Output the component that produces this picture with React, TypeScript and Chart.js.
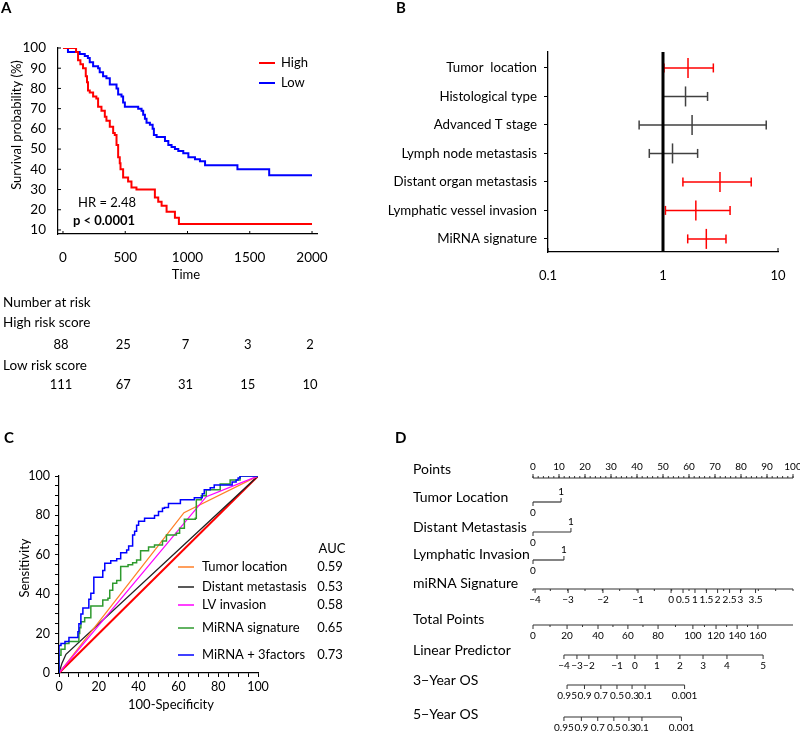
import React, { useEffect, useRef } from 'react';
import { Chart, registerables } from 'chart.js';

Chart.register(...registerables);

const FONT = 'Lato, "Open Sans", "Liberation Sans", sans-serif';
Chart.defaults.font.family = FONT;
Chart.defaults.color = '#000';

// ================= Panel A: Kaplan-Meier =================
const highTimes = [0, 80, 105, 121, 140, 161, 183, 193, 201, 215, 242, 268, 282, 309, 336, 349, 376, 403, 416, 430, 443, 456, 462, 483, 523, 550, 590, 738, 765, 792, 832, 899, 931, 2000];
const highSurv = [100, 100, 98, 94, 92, 90, 86, 83, 79, 78, 76, 75, 71, 69, 66, 64, 61, 58, 57, 52, 46, 43, 40, 36, 34, 31, 30, 26, 24, 22, 19, 16, 13, 13];
const lowTimes = [0, 40, 134, 175, 200, 215, 242, 282, 295, 322, 349, 376, 430, 443, 470, 483, 497, 604, 631, 644, 658, 671, 698, 720, 730, 752, 819, 846, 872, 899, 926, 966, 1007, 1060, 1100, 1141, 1401, 1656, 2000];
const lowSurv = [100, 98, 97, 96, 95, 93, 91, 90, 88, 86, 85, 82, 80, 77, 76, 73, 71, 70, 69, 67, 65, 63, 62, 60, 57, 56, 54, 52, 51, 50, 49, 48, 46, 45, 44, 42, 40, 37, 37];
const timeTicks = [0, 500, 1000, 1500, 2000];
const survTicks = [10, 20, 30, 40, 50, 60, 70, 80, 90, 100];
const kmGroups = ['High', 'Low'];
const riskHigh = [88, 25, 7, 3, 2];
const riskLow = [111, 67, 31, 15, 10];
const hrText = 'HR = 2.48';
const pText = 'p < 0.0001';

// ================= Panel B: Forest plot =================
const forestLabels = ['Tumor  location', 'Histological type', 'Advanced T stage', 'Lymph node metastasis', 'Distant organ metastasis', 'Lymphatic vessel invasion', 'MiRNA signature'];
const forestHR = [1.65, 1.57, 1.79, 1.21, 3.13, 1.93, 2.38];
const forestLow = [1.02, 1.0, 0.62, 0.76, 1.49, 1.05, 1.64];
const forestHigh = [2.74, 2.44, 7.9, 2.0, 5.85, 3.83, 3.53];
const forestTicks = [0.1, 1, 10];

// ================= Panel C: ROC =================
const rocRefX = [0, 100];
const rocRefY = [0, 100];
const rocDistantX = [0, 1.5, 3.5, 100];
const rocDistantY = [0, 5, 9.5, 100];
const rocTumorX = [0, 62.8, 100];
const rocTumorY = [0, 81.4, 100];
const rocLvX = [0, 2, 74, 100];
const rocLvY = [0, 2.5, 89.5, 100];
const rocMirnaX = [0, 0, 1, 3, 5, 9.5, 10, 10.4, 11, 12.9, 16, 20.4, 22, 24.6, 25.5, 27, 29, 31, 34.7, 37, 39, 41, 45, 48, 52, 54, 59, 60.6, 63, 68.5, 69, 71.5, 74, 81, 86, 91, 100];
const rocMirnaY = [0, 9, 12, 15, 16, 16, 20, 23, 26, 28, 34, 34, 37, 38, 42, 45.6, 47, 54, 55, 56, 57.4, 62, 64, 65, 67, 70, 71, 73.5, 78, 78.5, 88, 90, 93, 96, 98, 100, 100];
const rocCombX = [0, 0, 1, 3, 5, 9, 9.5, 10, 11, 12, 14, 15, 16, 17.5, 21, 22, 23, 26, 29, 31, 34, 35, 37, 38, 39, 40, 43, 48, 50, 52, 53, 55, 61, 68, 72, 73, 76, 78, 87, 89, 90, 91, 100];
const rocCombY = [0, 14, 15, 16, 18, 18, 21, 25, 30, 33, 33, 37.5, 40.5, 48.6, 48.6, 52, 55.7, 57, 58, 61, 62.5, 64.5, 70, 72, 75, 77, 78.5, 80, 82, 83.6, 84, 86, 88, 89, 91, 93, 94, 95.4, 97, 98, 99, 100, 100];
const rocNames = ['Tumor location', 'Distant metastasis', 'LV invasion', 'MiRNA signature', 'MiRNA + 3factors'];
const rocAuc = ['0.59', '0.53', '0.58', '0.65', '0.73'];
const rocTicks = [0, 20, 40, 60, 80, 100];

// ================= Panel D: Nomogram =================
const nomoRowNames = ['Points', 'Tumor Location', 'Distant Metastasis', 'Lymphatic Invasion', 'miRNA Signature', 'Total Points', 'Linear Predictor', '3\u2212Year OS', '5\u2212Year OS'];
const pointsLabels = [0, 10, 20, 30, 40, 50, 60, 70, 80, 90, 100];
const binaryLabels = ['0', '1'];
const tumorPts = [0, 10.8];
const distantPts = [0, 14.6];
const lymphPts = [0, 11.9];
const mirnaLabels = ['\u22124', '\u22123', '\u22122', '\u22121', '0', '0.5', '1', '1.5', '2', '2.5', '3', '3.5'];
const mirnaPts = [0.8, 13.5, 26.9, 40.4, 53.1, 57.7, 62.3, 66.7, 71.0, 75.6, 79.8, 85.6];
const mirnaRange = [-4, 3.5];
const totalLabels = ['0', '20', '40', '60', '80', '100', '120', '140', '160'];
const totalPts = [0, 13.1, 25, 36.5, 48.1, 61.5, 70.4, 78.5, 86.5];
const lpLabels = ['\u22124', '\u22123', '\u22122', '\u22121', '0', '1', '2', '3', '4', '5'];
const lpPts = [11.9, 16.9, 21.5, 32.3, 39.2, 47.7, 56.5, 65.4, 74.6, 88.5];
const osLabels = ['0.95', '0.9', '0.7', '0.5', '0.3', '0.1', '0.001'];
const os3Pts = [13.1, 19.8, 26.1, 32.3, 38.1, 43.1, 58.3];
const os5Pts = [11.9, 18.6, 24.9, 31.1, 36.9, 41.9, 57.1];

// ================= helpers =================
type TextItem = { t: string; x: number; y: number; size?: number; bold?: boolean; align?: CanvasTextAlign; rot?: number; color?: string };

function drawTexts(ctx: CanvasRenderingContext2D, ox: number, oy: number, items: TextItem[]) {
  for (const it of items) {
    ctx.save();
    ctx.translate(it.x - ox, it.y - oy);
    if (it.rot) ctx.rotate(it.rot);
    ctx.font = `${it.bold ? 'bold ' : ''}${it.size ?? 13}px ${FONT}`;
    ctx.fillStyle = it.color ?? '#000';
    ctx.textAlign = it.align ?? 'left';
    ctx.textBaseline = 'middle';
    ctx.fillText(it.t, 0, 0);
    ctx.restore();
  }
}

function innerTicks(chart: any, axis: 'x' | 'y', values: number[], len: number) {
  const ctx = chart.ctx as CanvasRenderingContext2D;
  const s = chart.scales[axis];
  const a = chart.chartArea;
  ctx.save();
  ctx.strokeStyle = '#000';
  ctx.lineWidth = 1;
  ctx.beginPath();
  for (const v of values) {
    const p = s.getPixelForValue(v);
    if (axis === 'x') {
      ctx.moveTo(p, a.bottom);
      ctx.lineTo(p, a.bottom - len);
    } else {
      ctx.moveTo(a.left, p);
      ctx.lineTo(a.left + len, p);
    }
  }
  ctx.stroke();
  ctx.restore();
}

const baseOpts = {
  animation: false,
  responsive: false,
  maintainAspectRatio: false,
  events: [] as any[],
  plugins: { legend: { display: false }, tooltip: { enabled: false } },
};

// ================= Panel A config =================
const AO = { x: 0, y: 0, w: 390, h: 400 };
const kmColors = ['#ff0000', '#0000ff'];

const panelAPlugin = {
  id: 'panelA',
  afterDraw(chart: any) {
    const ctx = chart.ctx as CanvasRenderingContext2D;
    innerTicks(chart, 'x', timeTicks, 3);
    innerTicks(chart, 'y', survTicks, 3);
    const xs = chart.scales.x;
    drawTexts(ctx, AO.x, AO.y, [
      { t: 'A', x: 1, y: 8, size: 15, bold: true },
      { t: 'Survival probability (%)', x: 17, y: 125, rot: -Math.PI / 2, align: 'center', size: 13 },
      { t: 'Time', x: 186, y: 275, align: 'center', size: 13 },
      { t: hrText, x: 107, y: 203, align: 'center', size: 13 },
      { t: pText, x: 104, y: 221, align: 'center', size: 13, bold: true },
      { t: 'Number at risk', x: 3, y: 303, size: 13.5 },
      { t: 'High risk score', x: 3, y: 323, size: 13.5 },
      { t: 'Low risk score', x: 3, y: 366, size: 13.5 },
    ]);
    const nums: TextItem[] = [];
    timeTicks.forEach((t, i) => {
      const px = xs.getPixelForValue(t) + AO.x;
      nums.push({ t: String(riskHigh[i]), x: px - 2, y: 345, align: 'center', size: 13 });
      nums.push({ t: String(riskLow[i]), x: px - 2, y: 385, align: 'center', size: 13 });
    });
    drawTexts(ctx, AO.x, AO.y, nums);
    const ly = [63, 83];
    ctx.save();
    kmGroups.forEach((g, i) => {
      ctx.strokeStyle = kmColors[i];
      ctx.lineWidth = 2;
      ctx.beginPath();
      ctx.moveTo(259 - AO.x, ly[i] - AO.y);
      ctx.lineTo(275 - AO.x, ly[i] - AO.y);
      ctx.stroke();
    });
    ctx.restore();
    drawTexts(ctx, AO.x, AO.y, kmGroups.map((g, i) => ({ t: g, x: 281, y: ly[i], size: 13 })));
  },
};

function buildA(): any {
  const area = { l: 58, t: 48, r: 317, b: 234 };
  return {
    type: 'line',
    data: {
      datasets: [
        { label: kmGroups[0], data: highTimes.map((t, i) => ({ x: t, y: highSurv[i] })), borderColor: kmColors[0], borderWidth: 2, pointRadius: 0, stepped: true, fill: false },
        { label: kmGroups[1], data: lowTimes.map((t, i) => ({ x: t, y: lowSurv[i] })), borderColor: kmColors[1], borderWidth: 2, pointRadius: 0, stepped: true, fill: false },
      ],
    },
    options: {
      ...baseOpts,
      layout: { padding: { left: 0, top: area.t - AO.y, right: AO.w - (area.r - AO.x), bottom: AO.h - (area.b - AO.y) - 40 } },
      scales: {
        x: {
          type: 'linear', min: -40, max: 2040,
          afterBuildTicks: (s: any) => { s.ticks = timeTicks.map((v) => ({ value: v })); },
          afterFit: (s: any) => { s.height = 40; },
          grid: { display: false },
          border: { display: true, color: '#000', width: 1.2 },
          ticks: { padding: 8, font: { size: 13.5 }, maxRotation: 0, autoSkip: false, color: '#000', callback: (v: any) => String(v) },
        },
        y: {
          type: 'linear', min: 8, max: 100,
          afterBuildTicks: (s: any) => { s.ticks = survTicks.map((v) => ({ value: v })); },
          afterFit: (s: any) => { s.width = area.l - AO.x; },
          grid: { display: false },
          border: { display: true, color: '#000', width: 1.2 },
          ticks: { padding: 4, font: { size: 13.5 }, autoSkip: false, color: '#000', callback: (v: any) => String(v) },
        },
      },
    },
    plugins: [panelAPlugin],
  };
}

// ================= Panel B config =================
const BO = { x: 375, y: 0, w: 425, h: 400 };
const forestColor = (i: number) => (forestLow[i] > 1 ? '#ff0000' : '#404040');

const panelBPlugin = {
  id: 'panelB',
  afterDraw(chart: any) {
    const ctx = chart.ctx as CanvasRenderingContext2D;
    innerTicks(chart, 'x', forestTicks, 4);
    drawTexts(ctx, BO.x, BO.y, [{ t: 'B', x: 396, y: 8, size: 15, bold: true }]);
  },
};

function buildB(): any {
  const area = { l: 548, t: 52, r: 778, b: 252 };
  const rowY = forestLabels.map((_, i) => i + 0.5);
  const datasets: any[] = [
    { data: [{ x: 1, y: -0.1 }, { x: 1, y: forestLabels.length }], borderColor: '#000', borderWidth: 3, pointRadius: 0 },
  ];
  forestLabels.forEach((_, i) => {
    const c = forestColor(i);
    datasets.push({
      data: [{ x: forestLow[i], y: rowY[i] }, { x: forestHigh[i], y: rowY[i] }],
      borderColor: c, borderWidth: 1.5,
      pointStyle: 'line', pointRotation: 90, pointRadius: 4.5, pointBorderColor: c, pointBorderWidth: 1.5,
    });
  });
  datasets.push({
    data: forestHR.map((v, i) => ({ x: v, y: rowY[i] })),
    showLine: false,
    pointStyle: 'line', pointRotation: 90, pointRadius: 10,
    pointBorderColor: forestLabels.map((_, i) => forestColor(i)), pointBorderWidth: 1.5,
  });
  return {
    type: 'line',
    data: { datasets },
    options: {
      ...baseOpts,
      layout: { padding: { left: 0, top: area.t - BO.y, right: BO.w - (area.r - BO.x), bottom: BO.h - (area.b - BO.y) - 40 } },
      scales: {
        x: {
          type: 'logarithmic', min: 0.1, max: 10,
          afterBuildTicks: (s: any) => { s.ticks = forestTicks.map((v) => ({ value: v })); },
          afterFit: (s: any) => { s.height = 40; },
          grid: { display: false },
          border: { display: true, color: '#000', width: 1.3 },
          ticks: { padding: 8, font: { size: 13 }, maxRotation: 0, autoSkip: false, color: '#000', callback: (v: any) => String(v) },
        },
        y: {
          type: 'linear', min: -0.06, max: forestLabels.length - 0.04, reverse: true,
          afterBuildTicks: (s: any) => { s.ticks = rowY.map((v) => ({ value: v })); },
          afterFit: (s: any) => { s.width = area.l - BO.x; },
          grid: { display: true, drawOnChartArea: false, drawTicks: true, tickLength: 4, color: '#000', lineWidth: 1 },
          border: { display: true, color: '#000', width: 1.3 },
          ticks: { padding: 7, font: { size: 13.3 }, autoSkip: false, color: '#000', callback: (v: any) => forestLabels[Math.round(Number(v) - 0.5)] ?? '' },
        },
      },
    },
    plugins: [panelBPlugin],
  };
}

// ================= Panel C config =================
const CO = { x: 0, y: 400, w: 390, h: 332 };
const rocColors = ['#ff7f27', '#222222', '#ff00ff', '#2e9a2e', '#0000ff'];

const panelCPlugin = {
  id: 'panelC',
  afterDraw(chart: any) {
    const ctx = chart.ctx as CanvasRenderingContext2D;
    drawTexts(ctx, CO.x, CO.y, [
      { t: 'C', x: 4, y: 438, size: 15, bold: true },
      { t: 'Sensitivity', x: 25, y: 568, rot: -Math.PI / 2, align: 'center', size: 13 },
      { t: '100-Specificity', x: 171, y: 705, align: 'center', size: 13 },
      { t: 'AUC', x: 332, y: 549, align: 'center', size: 13 },
    ]);
    const ly = [567, 587, 605, 628, 655];
    ctx.save();
    rocNames.forEach((_, i) => {
      ctx.strokeStyle = rocColors[i];
      ctx.lineWidth = 1.5;
      ctx.beginPath();
      ctx.moveTo(178 - CO.x, ly[i] - CO.y);
      ctx.lineTo(194 - CO.x, ly[i] - CO.y);
      ctx.stroke();
    });
    ctx.restore();
    drawTexts(ctx, CO.x, CO.y, rocNames.map((n, i) => ({ t: n, x: 202, y: ly[i], size: 13 })));
    drawTexts(ctx, CO.x, CO.y, rocAuc.map((a, i) => ({ t: a, x: 330, y: ly[i], size: 13, align: 'center' as CanvasTextAlign })));
  },
};

function buildC(): any {
  const area = { l: 59, t: 476, r: 258, b: 673 };
  const mk = (xs: number[], ys: number[]) => xs.map((x, i) => ({ x, y: ys[i] }));
  return {
    type: 'line',
    data: {
      datasets: [
        { data: mk(rocCombX, rocCombY), borderColor: rocColors[4], borderWidth: 1.5, pointRadius: 0, stepped: true },
        { data: mk(rocMirnaX, rocMirnaY), borderColor: rocColors[3], borderWidth: 1.5, pointRadius: 0, stepped: true },
        { data: mk(rocLvX, rocLvY), borderColor: rocColors[2], borderWidth: 1.3, pointRadius: 0 },
        { data: mk(rocTumorX, rocTumorY), borderColor: rocColors[0], borderWidth: 1.3, pointRadius: 0 },
        { data: mk(rocDistantX, rocDistantY), borderColor: rocColors[1], borderWidth: 1.3, pointRadius: 0 },
        { data: mk(rocRefX, rocRefY), borderColor: '#ff0000', borderWidth: 2, pointRadius: 0 },
      ],
    },
    options: {
      ...baseOpts,
      layout: { padding: { left: 0, top: area.t - CO.y, right: CO.w - (area.r - CO.x), bottom: CO.h - (area.b - CO.y) - 45 } },
      scales: {
        x: {
          type: 'linear', min: 0, max: 100,
          ticks: { stepSize: 5, padding: 2, font: { size: 12.5 }, maxRotation: 0, autoSkip: false, color: '#000', callback: (v: any) => (rocTicks.includes(Number(v)) ? String(v) : '') },
          afterFit: (s: any) => { s.height = 45; },
          grid: { display: true, drawOnChartArea: false, drawTicks: true, tickLength: 4, color: '#000' },
          border: { display: true, color: '#000', width: 1.2 },
        },
        y: {
          type: 'linear', min: 0, max: 100,
          ticks: { stepSize: 5, padding: 5, font: { size: 12.5 }, autoSkip: false, color: '#000', callback: (v: any) => (rocTicks.includes(Number(v)) ? String(v) : '') },
          afterFit: (s: any) => { s.width = area.l - CO.x; },
          grid: { display: true, drawOnChartArea: false, drawTicks: true, tickLength: 4, color: '#000' },
          border: { display: true, color: '#000', width: 1.2 },
        },
      },
    },
    plugins: [panelCPlugin],
  };
}

// ================= Panel D config =================
const DO = { x: 390, y: 400, w: 410, h: 332 };
type NomoRow = { name: string; nameY: number; lineY: number; labels: string[]; pts: number[]; side: number; extent?: [number, number]; minor?: number[]; binary?: boolean };

const mirnaToPts = (v: number) => ((v - mirnaRange[0]) / (mirnaRange[1] - mirnaRange[0])) * 100;
const stepRange = (a: number, b: number, st: number) => { const r: number[] = []; for (let v = a; v <= b + 1e-9; v += st) r.push(v); return r; };
const midpoints = (p: number[]) => p.slice(1).map((v, i) => (v + p[i]) / 2);

const nomoRows: NomoRow[] = [
  { name: nomoRowNames[0], nameY: 469, lineY: 478, labels: pointsLabels.map(String), pts: pointsLabels, side: -1, extent: [0, 100], minor: stepRange(0, 100, 2) },
  { name: nomoRowNames[1], nameY: 497, lineY: 502, labels: binaryLabels, pts: tumorPts, side: 1, binary: true },
  { name: nomoRowNames[2], nameY: 527, lineY: 532, labels: binaryLabels, pts: distantPts, side: 1, binary: true },
  { name: nomoRowNames[3], nameY: 554, lineY: 560, labels: binaryLabels, pts: lymphPts, side: 1, binary: true },
  { name: nomoRowNames[4], nameY: 583, lineY: 589, labels: mirnaLabels, pts: mirnaPts, side: 1, extent: [0, 100], minor: stepRange(mirnaRange[0], mirnaRange[1], 0.5).map(mirnaToPts) },
  { name: nomoRowNames[5], nameY: 619, lineY: 625, labels: totalLabels, pts: totalPts, side: 1, extent: [0, 100], minor: midpoints(totalPts) },
  { name: nomoRowNames[6], nameY: 650, lineY: 655, labels: lpLabels, pts: lpPts, side: 1 },
  { name: nomoRowNames[7], nameY: 680, lineY: 685, labels: osLabels, pts: os3Pts, side: 1 },
  { name: nomoRowNames[8], nameY: 714, lineY: 717, labels: osLabels, pts: os5Pts, side: 1 },
];

const panelDPlugin = {
  id: 'panelD',
  afterDraw(chart: any) {
    const ctx = chart.ctx as CanvasRenderingContext2D;
    const xs = chart.scales.x;
    const ys = chart.scales.y;
    const X = (p: number) => xs.getPixelForValue(p);
    const Y = (v: number) => ys.getPixelForValue(v);
    drawTexts(ctx, DO.x, DO.y, [{ t: 'D', x: 395, y: 438, size: 15, bold: true }]);
    drawTexts(ctx, DO.x, DO.y, nomoRows.map((r) => ({ t: r.name, x: 413, y: r.nameY, size: 14 })));
    ctx.save();
    ctx.strokeStyle = '#333';
    ctx.lineWidth = 1;
    ctx.fillStyle = '#000';
    ctx.font = `10px ${FONT}`;
    ctx.textAlign = 'center';
    ctx.textBaseline = 'middle';
    const tick = (p: number, y: number, dir: number, len: number) => {
      ctx.beginPath();
      ctx.moveTo(X(p), Y(y));
      ctx.lineTo(X(p), Y(y) + dir * len);
      ctx.stroke();
    };
    for (const r of nomoRows) {
      if (r.binary) {
        tick(r.pts[0], r.lineY, 1, 4);
        tick(r.pts[1], r.lineY, -1, 4);
        ctx.fillText(r.labels[0], X(r.pts[0]), Y(r.lineY) + 11);
        ctx.fillText(r.labels[1], X(r.pts[1]), Y(r.lineY) - 10);
        continue;
      }
      (r.minor ?? []).forEach((p) => tick(p, r.lineY, r.side, 2));
      r.pts.forEach((p, i) => {
        tick(p, r.lineY, r.side, 4);
        ctx.fillText(r.labels[i], X(p), Y(r.lineY) + r.side * 11);
      });
    }
    ctx.restore();
  },
};

function buildD(): any {
  const area = { l: 533, r: 793 };
  const datasets = nomoRows.map((r) => {
    const ext = r.extent ?? [Math.min(...r.pts), Math.max(...r.pts)];
    return { data: [{ x: ext[0], y: r.lineY }, { x: ext[1], y: r.lineY }], borderColor: '#333', borderWidth: 1.2, pointRadius: 0 };
  });
  return {
    type: 'line',
    data: { datasets },
    options: {
      ...baseOpts,
      layout: { padding: { left: area.l - DO.x, top: 0, right: DO.w - (area.r - DO.x), bottom: 0 } },
      scales: {
        x: { type: 'linear', min: 0, max: 100, display: false },
        y: { type: 'linear', min: DO.y, max: DO.y + DO.h, reverse: true, display: false },
      },
    },
    plugins: [panelDPlugin],
  };
}

// ================= React =================
function ChartPanel({ o, build }: { o: { x: number; y: number; w: number; h: number }; build: () => any }) {
  const ref = useRef<HTMLCanvasElement | null>(null);
  useEffect(() => {
    if (!ref.current) return;
    const chart = new Chart(ref.current, build());
    return () => chart.destroy();
  }, [build]);
  return <canvas ref={ref} width={o.w} height={o.h} style={{ position: 'absolute', left: o.x, top: o.y, width: o.w, height: o.h }} />;
}

export default function App() {
  return (
    <div style={{ position: 'absolute', left: 0, top: 0, width: 800, height: 732, background: '#fff', overflow: 'hidden' }}>
      <ChartPanel o={AO} build={buildA} />
      <ChartPanel o={BO} build={buildB} />
      <ChartPanel o={CO} build={buildC} />
      <ChartPanel o={DO} build={buildD} />
    </div>
  );
}
